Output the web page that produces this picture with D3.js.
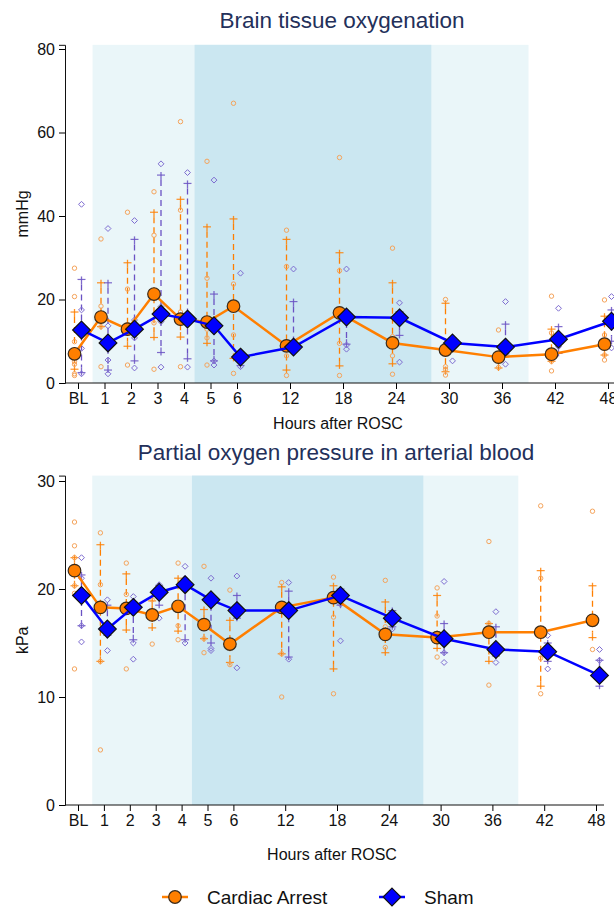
<!DOCTYPE html>
<html>
<head>
<meta charset="utf-8">
<script src="https://cdn.jsdelivr.net/npm/d3@7"></script>
<style>
  body { margin: 0; background: #fff; }
  svg { display: block; font-family: "Liberation Sans", Arial, sans-serif; }
</style>
</head>
<body>
<svg width="614" height="908"></svg>
<script>
const timeLabels = ['BL', '1', '2', '3', '4', '5', '6', '12', '18', '24', '30', '36', '42', '48']
const hours = [0, 1, 2, 3, 4, 5, 6, 12, 18, 24, 30, 36, 42, 48]
const lightShade = [0.55, 39]
const darkShade = [4.4, 28]
const seriesNames = ['Cardiac Arrest', 'Sham']

// Brain tissue oxygenation (mmHg)
const btoCA = [7.0, 15.8, 12.9, 21.3, 15.3, 14.6, 18.4, 8.9, 16.8, 9.6, 7.9, 6.2, 6.9, 9.3]
const btoCALo = [3.3, 13.5, 8.8, 10.9, 11.0, 9.5, 5.9, 3.1, 4.1, 4.6, 2.7, 3.6, 5.2, 6.7]
const btoCAHi = [17.0, 24.0, 28.8, 40.9, 44.0, 37.4, 39.3, 34.4, 31.2, 24.0, 19.1, 6.5, 12.9, 16.0]
const btoCAPts = [
  [27.5, 20.7, 9.9, 5.1, 4.5, 2.2, 1.8], [34.5, 18.4, 3.9, 13.5], [40.9, 22.5, 4.3, 14], [45.8, 35.4, 14.4, 3.3],
  [62.6, 41.4, 17, 3.9], [53.1, 25.1, 12.9, 10.8, 4.3], [67, 23.7, 11.5, 2.3], [36.6, 27.9, 6.5, 1.8],
  [54, 26.9, 9.5, 1.8], [32.3, 11.1, 6.5, 2.1], [20, 3.9, 3.3, 1.9], [12.7, 3.7, 6.0], [20.8, 12, 2.9, 5.2],
  [19.9, 11.5, 6.7, 5.5]
]
const btoSham = [12.7, 9.6, 12.9, 16.5, 15.3, 13.7, 6.2, 8.6, 15.8, 15.6, 9.6, 8.6, 10.5, 14.8]
const btoShamLo = [2.5, 3.1, 5.3, 7.3, 5.8, 5.3, 4.2, 8.0, 9.3, 11.4, 8.5, 7.0, 7.1, 10.0]
const btoShamHi = [24.8, 24.0, 34.4, 49.8, 47.8, 21.3, 6.5, 19.5, 15.8, 17.1, 10.8, 14.1, 13.5, 17.5]
const btoShamPts = [
  [42.8, 17.5, 8.3, 2.2], [37, 13.7, 5.5, 2.2], [38.9, 15.1, 10.8, 3.6], [52.5, 18.3, 14.7, 3.8],
  [50.4, 15, 3.8], [48.6, 5.3, 4.3], [26.3, 3.9], [27.3, 7.9], [27.3, 9.1, 8.1], [19.2, 16.5, 5.0],
  [10.5, 5.3], [19.5, 6.7, 4.5], [17.9, 8.7], [20.7, 8.4]
]

// Partial oxygen pressure in arterial blood (kPa)
const pao2CA = [21.7, 18.3, 18.2, 17.6, 18.4, 16.7, 14.9, 18.3, 19.2, 15.8, 15.5, 16.0, 16.0, 17.1]
const pao2CALo = [20.3, 13.3, 16.2, 16.4, 16.1, 15.4, 13.2, 14.0, 12.6, 14.1, 14.5, 13.3, 11.0, 15.5]
const pao2CAHi = [22.9, 24.1, 21.4, 18.9, 21.0, 18.1, 17.1, 20.2, 20.3, 18.8, 19.4, 16.8, 21.7, 20.3]
const pao2CAPts = [
  [26.2, 24.0, 22.9, 20.3, 19.6, 12.6], [25.2, 20.4, 13.3, 5.1], [22.4, 19.5, 12.6], [19.0, 14.9],
  [22.4, 16.6, 15.3], [22.1, 15.4, 14.1], [19.9, 13.0], [20.6, 14.0, 10.0], [21.1, 17.4, 10.3],
  [20.8, 16.5, 14.6], [20.1, 17.5, 13.7], [24.4, 16.8, 11.1], [27.7, 21.0, 13.6, 10.3], [27.2, 14.4]
]
const pao2Sham = [19.4, 16.3, 18.3, 19.7, 20.4, 19.0, 18.0, 18.0, 19.4, 17.3, 15.4, 14.4, 14.2, 12.0]
const pao2ShamLo = [16.6, 15.7, 15.3, 18.5, 15.3, 15.0, 17.3, 13.7, 18.5, 16.5, 14.1, 13.8, 13.3, 11.0]
const pao2ShamHi = [21.3, 18.5, 18.8, 20.3, 20.9, 19.0, 19.4, 19.8, 20.0, 18.0, 16.8, 16.5, 15.0, 13.4]
const pao2ShamPts = [
  [22.9, 21.0, 16.6, 15.1], [19.0, 15.7, 14.3], [19.3, 15.0, 13.5], [20.4, 17.3], [22.1, 21.0, 15.0],
  [21.0, 14.5, 14.3], [21.2, 12.7], [20.6, 13.5], [18.6, 15.2], [17.5, 16.3], [20.7, 14.1, 13.2],
  [17.9, 13.2], [15.7, 12.6], [14.4, 13.4]
]

const svg = d3.select('svg')
const orange = '#ff7f00'
const blue = '#0000ff'
const ptOrange = '#f5a35a'
const ptPurple = '#7d6bd0'
const barPurple = '#6a52c4'

const diamond = d3.symbol().type(d3.symbolDiamond2)

function drawPanel (p) {
  const x = d3.scaleLinear().domain([0, 6, 48]).range([p.x0, p.x0 + 6 * p.step, p.x0 + 20 * p.step])
  const y = d3.scaleLinear().domain([0, p.yMax]).range([p.yBase, p.yBase - p.yMax * p.unit])
  const g = svg.append('g')

  // shaded periods
  g.append('rect')
    .attr('x', x(lightShade[0])).attr('y', y(p.yMax))
    .attr('width', x(lightShade[1]) - x(lightShade[0])).attr('height', y(0) - y(p.yMax))
    .attr('fill', '#eaf6f9')
  g.append('rect')
    .attr('x', x(darkShade[0])).attr('y', y(p.yMax))
    .attr('width', x(darkShade[1]) - x(darkShade[0])).attr('height', y(0) - y(p.yMax))
    .attr('fill', '#cbe7f1')

  // axes
  const yAxis = d3.axisLeft(y).tickValues(p.yTicks).tickSize(6).tickPadding(4)
  g.append('g').attr('transform', 'translate(' + p.xAxisX + ',0)').call(yAxis)
    .call(s => s.selectAll('text').attr('font-size', 16).attr('fill', '#111'))
    .call(s => s.select('.domain').attr('stroke', '#111'))

  const xAxis = d3.axisBottom(x).tickValues(hours).tickFormat((d, i) => timeLabels[i]).tickSize(6).tickPadding(4)
  g.append('g').attr('transform', 'translate(0,' + p.yBase + ')').call(xAxis)
    .call(s => s.select('.domain').remove())
    .call(s => s.selectAll('text').attr('font-size', 16).attr('fill', '#111'))
  g.append('line')
    .attr('x1', p.xAxisX).attr('x2', p.xAxisEnd).attr('y1', p.yBase).attr('y2', p.yBase)
    .attr('stroke', '#111')

  // titles
  g.append('text').attr('x', p.titleX).attr('y', p.titleY).attr('text-anchor', 'middle')
    .attr('font-size', 22.5).attr('fill', '#23305a').text(p.title)
  g.append('text').attr('x', p.titleX - 4).attr('y', p.xTitleY).attr('text-anchor', 'middle')
    .attr('font-size', 16).attr('fill', '#111').text('Hours after ROSC')
  g.append('text')
    .attr('transform', 'translate(28,' + (y(0) + y(p.yMax)) / 2 + ') rotate(-90)')
    .attr('text-anchor', 'middle').attr('font-size', 16).attr('fill', '#111').text(p.yLabel)

  const series = [
    { mean: p.ca, lo: p.caLo, hi: p.caHi, pts: p.caPts, dx: -3.5, bar: orange, pt: ptOrange, line: orange, shape: 'circle' },
    { mean: p.sham, lo: p.shamLo, hi: p.shamHi, pts: p.shamPts, dx: 3.5, bar: barPurple, pt: ptPurple, line: blue, shape: 'diamond' }
  ]

  // individual values and spread bars
  series.forEach(s => {
    hours.forEach((h, i) => {
      const cx = x(h) + s.dx
      const yl = y(s.lo[i])
      const yh = y(s.hi[i])
      g.append('line').attr('x1', cx).attr('x2', cx).attr('y1', yh + 5).attr('y2', yl - 5)
        .attr('stroke', s.bar).attr('stroke-width', 1.3).attr('stroke-dasharray', '6,4')
      ;[[yh, 1], [yl, -1]].forEach(([yy, dir]) => {
        g.append('line').attr('x1', cx - 4).attr('x2', cx + 4).attr('y1', yy).attr('y2', yy)
          .attr('stroke', s.bar).attr('stroke-width', 1.2).attr('opacity', 0.85)
        g.append('line').attr('x1', cx).attr('x2', cx).attr('y1', yy - 3 * dir).attr('y2', yy + 5 * dir)
          .attr('stroke', s.bar).attr('stroke-width', 1.3).attr('opacity', 0.85)
      })
      s.pts[i].forEach(v => {
        if (s.shape === 'circle') {
          g.append('circle').attr('cx', cx).attr('cy', y(v)).attr('r', 2.2)
            .attr('fill', 'none').attr('stroke', s.pt).attr('stroke-width', 1)
        } else {
          g.append('path').attr('d', diamond.size(22)())
            .attr('transform', 'translate(' + cx + ',' + y(v) + ')')
            .attr('fill', 'none').attr('stroke', s.pt).attr('stroke-width', 1)
        }
      })
    })
  })

  // mean lines and markers
  series.forEach(s => {
    const line = d3.line().x((d, i) => x(hours[i]) + s.dx).y(d => y(d))
    g.append('path').datum(s.mean).attr('d', line)
      .attr('fill', 'none').attr('stroke', s.line).attr('stroke-width', 2.5)
    s.mean.forEach((v, i) => {
      const cx = x(hours[i]) + s.dx
      if (s.shape === 'circle') {
        g.append('circle').attr('cx', cx).attr('cy', y(v)).attr('r', 6.3)
          .attr('fill', orange).attr('stroke', '#3a2a1a').attr('stroke-width', 1.2)
      } else {
        g.append('path').attr('d', diamond.size(200)())
          .attr('transform', 'translate(' + cx + ',' + y(v) + ')')
          .attr('fill', blue).attr('stroke', '#111').attr('stroke-width', 1.2)
      }
    })
  })
}

drawPanel({
  title: 'Brain tissue oxygenation', yLabel: 'mmHg',
  x0: 78, step: 26.5, xAxisX: 65, xAxisEnd: 630,
  yBase: 383, unit: 4.175, yMax: 81, yTicks: [0, 20, 40, 60, 80],
  titleX: 342, titleY: 28, xTitleY: 429,
  ca: btoCA, caLo: btoCALo, caHi: btoCAHi, caPts: btoCAPts,
  sham: btoSham, shamLo: btoShamLo, shamHi: btoShamHi, shamPts: btoShamPts
})

drawPanel({
  title: 'Partial oxygen pressure in arterial blood', yLabel: 'kPa',
  x0: 78, step: 25.9, xAxisX: 65, xAxisEnd: 604,
  yBase: 805, unit: 10.8, yMax: 30.5, yTicks: [0, 10, 20, 30],
  titleX: 336, titleY: 460, xTitleY: 860,
  ca: pao2CA, caLo: pao2CALo, caHi: pao2CAHi, caPts: pao2CAPts,
  sham: pao2Sham, shamLo: pao2ShamLo, shamHi: pao2ShamHi, shamPts: pao2ShamPts
})

// legend
const legend = svg.append('g').attr('transform', 'translate(0,897)')
const legendItems = [
  { name: seriesNames[0], x: 162, color: orange, shape: 'circle' },
  { name: seriesNames[1], x: 379, color: blue, shape: 'diamond' }
]
legendItems.forEach(d => {
  legend.append('line').attr('x1', d.x).attr('x2', d.x + 26).attr('y1', 0).attr('y2', 0)
    .attr('stroke', d.color).attr('stroke-width', 2.5)
  if (d.shape === 'circle') {
    legend.append('circle').attr('cx', d.x + 13).attr('cy', 0).attr('r', 6.3)
      .attr('fill', d.color).attr('stroke', '#3a2a1a').attr('stroke-width', 1.2)
  } else {
    legend.append('path').attr('d', diamond.size(200)()).attr('transform', 'translate(' + (d.x + 13) + ',0)')
      .attr('fill', d.color).attr('stroke', '#111').attr('stroke-width', 1.2)
  }
  legend.append('text').attr('x', d.x + 45).attr('y', 7).attr('font-size', 19).attr('fill', '#111').text(d.name)
})
</script>
</body>
</html>
